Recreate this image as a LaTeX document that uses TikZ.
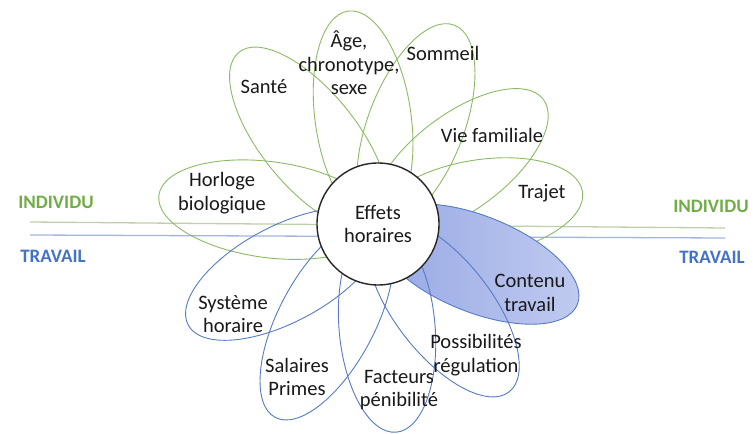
\documentclass[tikz,border=0pt]{standalone}
\usepackage{fontspec}
\setmainfont{Carlito}
\usetikzlibrary{positioning}
\definecolor{indGreen}{RGB}{112,173,71}
\definecolor{travBlue}{RGB}{68,114,196}
\definecolor{petGreen}{RGB}{140,186,100}
\definecolor{petBlue}{RGB}{86,122,198}
\definecolor{lineGreen}{RGB}{190,208,170}
\definecolor{lineBlue}{RGB}{165,182,220}
\definecolor{ctDark}{RGB}{148,166,228}
\definecolor{ctLight}{RGB}{194,204,240}
\definecolor{txt}{RGB}{25,25,25}

\begin{document}
\begin{tikzpicture}[x=1pt,y=1pt, every node/.style={font=\fontsize{20.5}{23.5}\selectfont,text=txt,align=center,inner sep=1pt}, side/.style={font=\fontsize{19}{23}\selectfont\bfseries}, axis/.style={line width=1.3pt}, petG/.style={draw=petGreen,line width=0.9pt}, petB/.style={draw=petBlue,line width=0.9pt}, hub/.style={circle,draw=black!85,line width=1.4pt,fill=white,minimum size=122pt,inner sep=0pt}]
\useasboundingbox (0,0) rectangle (753,434);
\coordinate (c) at (378,210);
\coordinate (gl) at (30,212); \coordinate (gr) at (725,206);
\coordinate (bl) at (30,199); \coordinate (br) at (725,196);
\draw[axis,lineGreen] (gl)--(gr); \draw[axis,lineBlue] (bl)--(br);
\foreach \a/\r in {172.5/111,129/111,98/108,69/107,37/104,9/104}
  \draw[petG,shift={(c)},rotate=\a] (\r-1,0) ellipse [x radius=\r,y radius=48];
\draw[petB,shift={(c)},rotate=-22,left color=ctDark,right color=ctLight] (107,0) ellipse [x radius=108,y radius=48];
\foreach \a/\r in {-52/107,-85/105,-118/110,-152/108}
  \draw[petB,shift={(c)},rotate=\a] (\r-1,0) ellipse [x radius=\r,y radius=48];
\node[hub] (eff) at (c) {Effets\\horaires};
\node (sante) at (264,347) {Santé};
\node (age) at (349,371) {Âge,\\chronotype,\\sexe};
\node (somm) at (443,381) {Sommeil};
\node (vie) at (492,299) {Vie familiale};
\node (traj) at (542,241) {Trajet};
\node (horl) at (222,241) {Horloge\\biologique};
\node (cont) at (530,141) {Contenu\\travail};
\node (syst) at (233,120) {Système\\horaire};
\node (sal) at (297,57) {Salaires\\Primes};
\node (fact) at (399,44) {Facteurs\\pénibilité};
\node (poss) at (476,79) {Possibilités\\régulation};
\node[side,text=indGreen] (indL) at (56,232) {INDIVIDU};
\node[side,text=travBlue] (travL) at (53,178) {TRAVAIL};
\node[side,text=indGreen] (indR) at (711,228) {INDIVIDU};
\node[side,text=travBlue] (travR) at (712,177) {TRAVAIL};
\end{tikzpicture}
\end{document}
